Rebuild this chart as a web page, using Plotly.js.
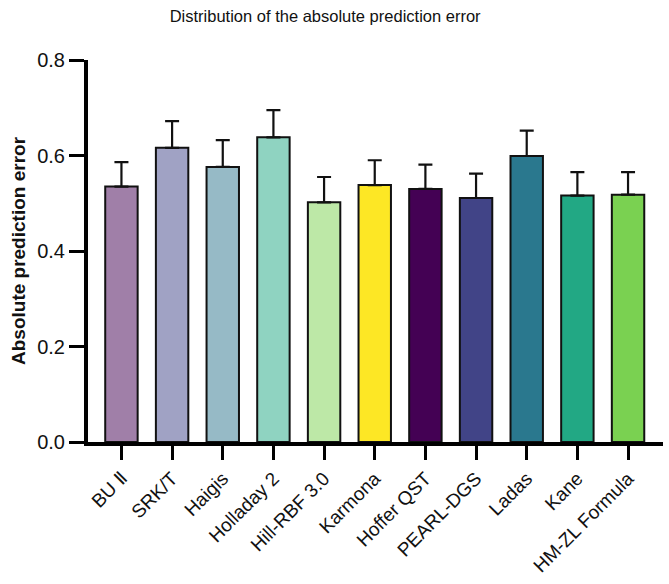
<!DOCTYPE html>
<html>
<head>
<meta charset="utf-8">
<script src="https://cdn.plot.ly/plotly-3.0.1.min.js"></script>
<style>html,body{margin:0;padding:0;background:#fff;}</style>
</head>
<body>
<div id="chart" style="width:669px;height:584px;"></div>
<script>
const categories = ["BU \u2161", "SRK/T", "Haigis", "Holladay 2", "Hill-RBF 3.0", "Karmona", "Hoffer QST", "PEARL-DGS", "Ladas", "Kane", "HM-ZL Formula"];
const meanError = [0.535, 0.616, 0.576, 0.638, 0.502, 0.538, 0.530, 0.511, 0.599, 0.516, 0.518];
const errorUp = [0.051, 0.056, 0.056, 0.057, 0.053, 0.052, 0.051, 0.051, 0.053, 0.049, 0.047];
const barColors = ["#A07FA8", "#A0A2C4", "#96BAC6", "#8FD3C1", "#BDE8A7", "#FDE725", "#440154", "#414487", "#2A788E", "#22A884", "#7AD151"];

const trace = {
  type: "bar",
  x: categories,
  y: meanError,
  marker: {color: barColors, line: {color: "#111", width: 2}},
  error_y: {type: "data", array: errorUp, arrayminus: errorUp.map(() => 0), symmetric: false, color: "#111", thickness: 2.2, width: 7},
  hoverinfo: "none"
};

const layout = {
  width: 669, height: 584,
  margin: {l: 88, r: 6, t: 60, b: 142, pad: 0},
  paper_bgcolor: "#fff", plot_bgcolor: "#fff",
  font: {family: "Liberation Sans, Arial, sans-serif", color: "#111"},
  title: {text: "Distribution of the absolute prediction error", font: {size: 16.5, color: "#111"}, x: 0.486, xanchor: "center", y: 0.972, yanchor: "middle"},
  bargap: 0.36,
  showlegend: false,
  xaxis: {
    type: "category", range: [-0.66, 10.69],
    showline: true, linecolor: "#000", linewidth: 4,
    ticks: "outside", ticklen: 14, tickwidth: 3, tickcolor: "#000",
    tickangle: -45, tickfont: {size: 19, color: "#111"},
    showgrid: false, zeroline: false
  },
  yaxis: {
    range: [0, 0.8], tickvals: [0, 0.2, 0.4, 0.6, 0.8], ticktext: ["0.0", "0.2", "0.4", "0.6", "0.8"],
    showline: true, linecolor: "#000", linewidth: 4,
    ticks: "outside", ticklen: 15, tickwidth: 3, tickcolor: "#000",
    tickfont: {size: 20, color: "#111"},
    showgrid: false, zeroline: false,
    title: {text: "<b>Absolute prediction error</b>", font: {size: 19, color: "#111"}, standoff: 8}
  }
};

Plotly.newPlot("chart", [trace], layout, {displayModeBar: false, staticPlot: true});
</script>
</body>
</html>
